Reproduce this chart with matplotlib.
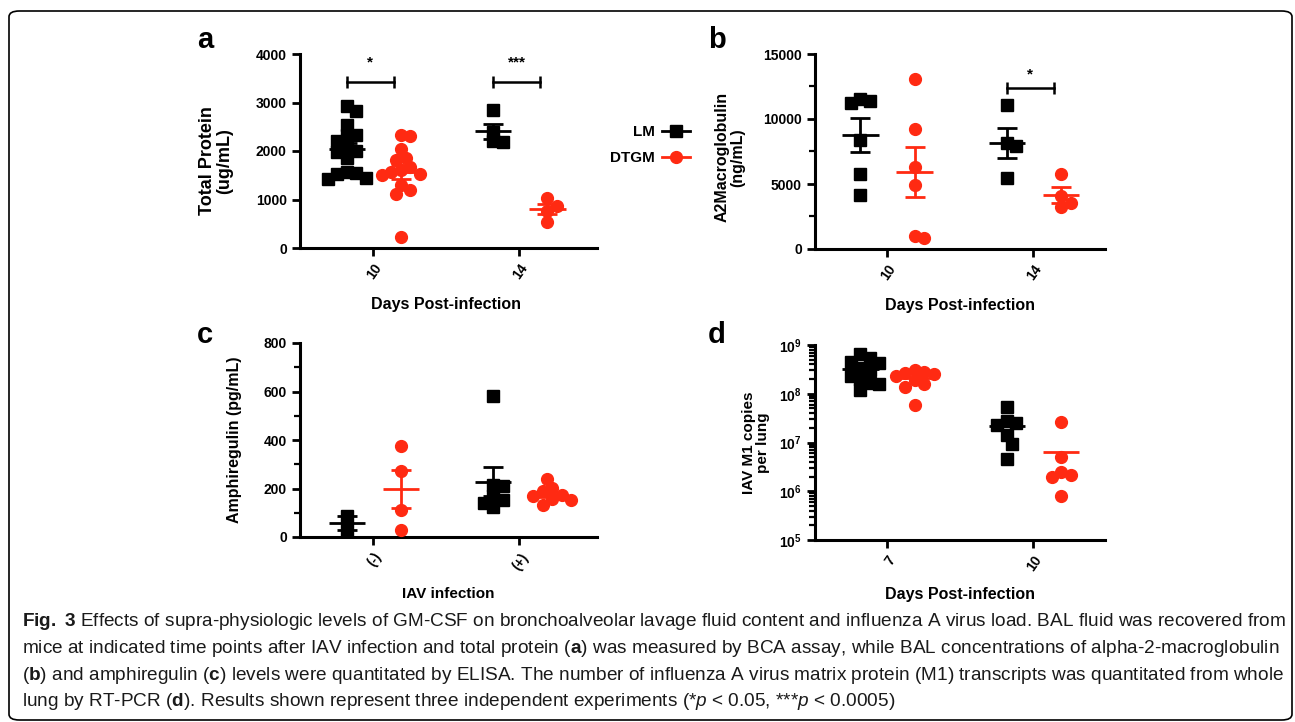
import numpy as np
import matplotlib.pyplot as plt
from matplotlib.lines import Line2D
from matplotlib.patches import FancyBboxPatch
from matplotlib.ticker import MultipleLocator, LogLocator, NullFormatter

# ---- data ----
groups = ['LM', 'DTGM']
colors = {'LM': 'black', 'DTGM': '#ff2a12'}
markers = {'LM': 's', 'DTGM': 'o'}

# a: total protein (ug/mL), days 10 and 14
a_ticks = ['10', '14']
a_LM = [[2920, 2830, 2540, 2340, 2320, 2200, 2060, 2000, 1980, 1850, 1560, 1550, 1530, 1450, 1430],
        [2850, 2400, 2200, 2180]]
a_DTGM = [[2340, 2300, 2040, 1850, 1820, 1680, 1600, 1560, 1520, 1500, 1290, 1200, 1120, 230],
          [1030, 870, 760, 530]]

# b: A2 macroglobulin (ng/mL)
b_ticks = ['10', '14']
b_LM = [[11500, 11400, 11200, 8400, 5800, 4150],
        [11100, 8150, 7950, 5450]]
b_DTGM = [[13100, 9250, 6300, 4950, 1030, 860],
          [5800, 4100, 3500, 3200]]

# c: amphiregulin (pg/mL), IAV infection -/+
c_ticks = ['(-)', '(+)']
c_LM = [[85, 28],
        [583, 213, 211, 170, 154, 140, 124]]
c_DTGM = [[374, 272, 113, 30],
          [241, 202, 188, 172, 170, 157, 154, 133]]

# d: IAV M1 copies per lung, days 7 and 10
d_ticks = ['7', '10']
d_LM = [[6.5e8, 5.5e8, 4.5e8, 4.3e8, 3.3e8, 3.0e8, 2.3e8, 2.0e8, 1.7e8, 1.6e8, 1.2e8],
        [5.3e7, 2.7e7, 2.5e7, 2.3e7, 1.4e7, 9.4e6, 4.5e6]]
d_DTGM = [[3.0e8, 2.8e8, 2.7e8, 2.5e8, 2.3e8, 1.9e8, 1.6e8, 1.4e8, 6.0e7],
          [2.6e7, 5.1e6, 2.5e6, 2.2e6, 2.0e6, 8.1e5]]

plt.rcParams['font.family'] = ['Liberation Sans', 'DejaVu Sans']
plt.rcParams['font.weight'] = 'bold'
plt.rcParams['axes.labelweight'] = 'bold'
plt.rcParams['mathtext.fontset'] = 'custom'
plt.rcParams['mathtext.rm'] = 'Liberation Sans:weight=normal'
plt.rcParams['mathtext.bf'] = 'Liberation Sans:weight=bold'
plt.rcParams['mathtext.it'] = 'Liberation Sans:style=italic:weight=normal'

fig = plt.figure(figsize=(12.95, 7.22), dpi=100)
W, H = 1295, 722


def make_ax(l, t, r, b):
    ax = fig.add_axes([l / W, 1 - b / H, (r - l) / W, (b - t) / H])
    for s in ['top', 'right']:
        ax.spines[s].set_visible(False)
    for s in ['left', 'bottom']:
        ax.spines[s].set_linewidth(2.2)
    ax.tick_params(width=2, length=6, labelsize=10)
    ax.tick_params(which='minor', width=1.6, length=4)
    return ax


def swarm(ax, x0, vals, d=9.5):
    # place points side by side so they don't pile up (like a dot plot)
    pts = ax.transData.transform([(x0, v) for v in vals])
    placed = []
    for px, py in pts:
        cx = px
        for k in range(60):
            for s in ([0] if k == 0 else [1, -1]):
                cx = px + s * k * d * 0.5
                if all((cx - qx) ** 2 + (py - qy) ** 2 >= d ** 2 for qx, qy in placed):
                    break
            else:
                continue
            break
        placed.append((cx, py))
    return ax.transData.inverted().transform(placed)[:, 0]


def dotplot(ax, lm, dt, ticks, ylim, xlim, log=False, sem=True):
    ax.set_xlim(*xlim)
    if log:
        ax.set_yscale('log')
    ax.set_ylim(*ylim)
    ax.set_xticks([0, 1])
    ax.set_xticklabels(ticks, rotation=55, ha='right', va='top', rotation_mode='anchor')
    for i in range(2):
        for name, data, off in [('LM', lm, -0.18), ('DTGM', dt, 0.19)]:
            v = np.array(data[i], dtype=float)
            x = i + off
            xs = swarm(ax, x, v)
            ax.plot(xs, v, ls='none', marker=markers[name], ms=8.5, color=colors[name],
                    clip_on=False, zorder=3)
            m = v.mean()
            ax.hlines(m, x - 0.125, x + 0.125, color=colors[name], lw=2, zorder=4)
            if sem:
                se = v.std(ddof=1) / np.sqrt(len(v))
                ax.errorbar(x, m, yerr=se, color=colors[name], lw=2, capsize=7,
                            capthick=2, zorder=4)


def bracket(ax, i, y, ystar, label):
    ax.plot([i - 0.18, i + 0.14], [y, y], color='black', lw=1.8)
    ax.plot([i - 0.18, i + 0.14], [y, y], ls='none', marker='|', ms=9, mew=1.8, color='black')
    ax.text(i - 0.02, ystar, label, ha='center', va='center', fontsize=11)


# a
ax_a = make_ax(300, 54, 597, 248)
dotplot(ax_a, a_LM, a_DTGM, a_ticks, (0, 4000), (-0.5, 1.53))
ax_a.yaxis.set_major_locator(MultipleLocator(1000))
ax_a.set_ylabel('Total Protein\n(ug/mL)', fontsize=13, linespacing=1.05)
ax_a.yaxis.set_label_coords(-0.225, 0.45)
ax_a.set_xlabel('Days Post-infection', fontsize=11.5)
ax_a.xaxis.set_label_coords(0.49, -0.255)
bracket(ax_a, 0, 3420, 3820, '*')
bracket(ax_a, 1, 3420, 3820, '***')

# b
ax_b = make_ax(815, 54, 1105, 249)
dotplot(ax_b, b_LM, b_DTGM, b_ticks, (0, 15000), (-0.49, 1.49))
ax_b.yaxis.set_major_locator(MultipleLocator(5000))
ax_b.yaxis.set_minor_locator(MultipleLocator(2500))
ax_b.set_ylabel('A2Macroglobulin\n(ng/mL)', fontsize=11.5, linespacing=1.05)
ax_b.yaxis.set_label_coords(-0.24, 0.47)
ax_b.set_xlabel('Days Post-infection', fontsize=11.5)
ax_b.xaxis.set_label_coords(0.5, -0.25)
bracket(ax_b, 1, 12410, 13440, '*')

# c
ax_c = make_ax(300, 343, 597, 537)
dotplot(ax_c, c_LM, c_DTGM, c_ticks, (0, 800), (-0.5, 1.53))
ax_c.yaxis.set_major_locator(MultipleLocator(200))
ax_c.yaxis.set_minor_locator(MultipleLocator(100))
ax_c.set_ylabel('Amphiregulin (pg/mL)', fontsize=11.5)
ax_c.yaxis.set_label_coords(-0.195, 0.5)
ax_c.set_xlabel('IAV infection', fontsize=11)
ax_c.xaxis.set_label_coords(0.5, -0.26)

# d
ax_d = make_ax(815, 345, 1105, 540)
dotplot(ax_d, d_LM, d_DTGM, d_ticks, (1e5, 1e9), (-0.49, 1.49), log=True, sem=False)
ax_d.yaxis.set_major_locator(LogLocator(base=10, numticks=10))
ax_d.yaxis.set_minor_locator(LogLocator(base=10, subs=np.arange(2, 10), numticks=10))
ax_d.yaxis.set_minor_formatter(NullFormatter())
ax_d.set_ylabel('IAV M1 copies\nper lung', fontsize=11, linespacing=1.05)
ax_d.yaxis.set_label_coords(-0.155, 0.5)
ax_d.set_xlabel('Days Post-infection', fontsize=11.5)
ax_d.xaxis.set_label_coords(0.5, -0.24)

# panel letters
for lab, x, y in [('a', 205, 40), ('b', 717, 40), ('c', 205, 335), ('d', 717, 335)]:
    fig.text(x / W, 1 - y / H, lab, fontsize=21, fontweight='bold', ha='center', va='center')

# legend
handles = [Line2D([], [], color=colors[g], marker=markers[g], ms=8.5, lw=2) for g in groups]
fig.legend(handles, groups, loc='center', bbox_to_anchor=(650 / W, 1 - 145 / H),
           markerfirst=False, frameon=False, fontsize=11, handlelength=1.8,
           handletextpad=0.5, labelspacing=0.8)

# border
fig.patches.append(FancyBboxPatch((9 / W, 2 / H), 1283 / W, 709 / H,
                                  boxstyle='round,pad=0,rounding_size=0.008',
                                  transform=fig.transFigure, fill=False,
                                  edgecolor='black', lw=1.2))

# caption
caption = [
    r'$\mathbf{Fig.}$ $\mathbf{3}$ Effects of supra-physiologic levels of GM-CSF on bronchoalveolar lavage fluid content and influenza A virus load. BAL fluid was recovered from',
    r'mice at indicated time points after IAV infection and total protein ($\mathbf{a}$) was measured by BCA assay, while BAL concentrations of alpha-2-macroglobulin',
    r'($\mathbf{b}$) and amphiregulin ($\mathbf{c}$) levels were quantitated by ELISA. The number of influenza A virus matrix protein (M1) transcripts was quantitated from whole',
    r'lung by RT-PCR ($\mathbf{d}$). Results shown represent three independent experiments (*$\mathit{p}$ < 0.05, ***$\mathit{p}$ < 0.0005)',
]
texts = []
for k, line in enumerate(caption):
    texts.append(fig.text(22 / W, 1 - (622 + 26.5 * k) / H, line, fontsize=12,
                          fontweight='normal', ha='left', va='center', color='#1a1a1a'))
# shrink the caption so the widest line spans the same width as in the figure
r = fig.canvas.get_renderer()
wmax = max(t.get_window_extent(r).width for t in texts)
for t in texts:
    t.set_fontsize(12 * 1262 / wmax)

fig.savefig('out.png', dpi=100)
